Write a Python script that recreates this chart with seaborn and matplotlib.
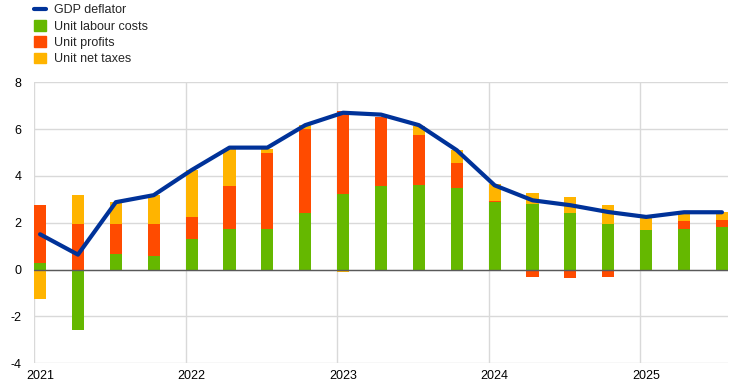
import numpy as np
import pandas as pd
import matplotlib
matplotlib.use("Agg")
import matplotlib.pyplot as plt
import seaborn as sns
from matplotlib.lines import Line2D
from matplotlib.patches import Patch

quarters = ["2021Q1", "2021Q2", "2021Q3", "2021Q4",
            "2022Q1", "2022Q2", "2022Q3", "2022Q4",
            "2023Q1", "2023Q2", "2023Q3", "2023Q4",
            "2024Q1", "2024Q2", "2024Q3", "2024Q4",
            "2025Q1", "2025Q2", "2025Q3"]
labour = [0.28, -2.59, 0.67, 0.58, 1.30, 1.72, 1.72, 2.42, 3.23, 3.58,
          3.60, 3.49, 2.89, 2.79, 2.41, 1.94, 1.68, 1.72, 1.81]
profits = [2.47, 1.94, 1.27, 1.36, 0.95, 1.86, 3.27, 3.59, 3.54, 2.94,
           2.14, 1.05, 0.04, -0.33, -0.37, -0.33, 0.0, 0.34, 0.30]
taxes = [-1.27, 1.24, 0.94, 1.24, 2.01, 1.59, 0.18, 0.16, -0.10, -0.07,
         0.40, 0.56, 0.73, 0.47, 0.68, 0.81, 0.57, 0.38, 0.34]
deflator = [1.51, 0.64, 2.88, 3.18, 4.25, 5.21, 5.21, 6.17, 6.70, 6.62,
            6.17, 5.10, 3.60, 2.96, 2.75, 2.46, 2.25, 2.45, 2.45]
year_labels = ["2021", "2022", "2023", "2024", "2025"]

blue = "#003299"
green = "#65b800"
red = "#ff4b00"
yellow = "#ffb400"

df = pd.DataFrame({"q": quarters, "labour": labour, "profits": profits,
                   "taxes": taxes, "deflator": deflator})
df["pos"] = np.arange(len(df))

sns.set_style("white")
plt.rcParams["font.family"] = ["Liberation Sans", "DejaVu Sans"]
plt.rcParams["font.size"] = 9
plt.rcParams["axes.unicode_minus"] = False

fig = plt.figure(figsize=(7.44, 3.9), dpi=100)
ax = fig.add_axes([0.0457, 0.0685, 0.9323, 0.7205])

# stacked bars: positives up, negatives down
pos_base = np.zeros(len(df))
neg_base = np.zeros(len(df))
for col, c in [("labour", green), ("profits", red), ("taxes", yellow)]:
    v = df[col].values
    base = np.where(v >= 0, pos_base, neg_base)
    ax.bar(df["pos"], v, bottom=base, width=0.32, color=c, linewidth=0, zorder=2)
    pos_base = pos_base + np.clip(v, 0, None)
    neg_base = neg_base + np.clip(v, None, 0)

sns.lineplot(data=df, x="pos", y="deflator", color=blue, linewidth=3,
             ax=ax, zorder=3, legend=False)

ax.set_xlim(-0.16, 18.15)
ax.set_ylim(-4, 8)
ax.set_yticks(np.arange(-4, 9, 2))
ax.set_xticks(np.arange(0, 19, 4))
ax.set_xticklabels(year_labels)
ax.tick_params(axis="both", length=0, labelsize=9, colors="#000000")
ax.tick_params(axis="y", pad=9)
ax.tick_params(axis="x", pad=5)
ax.set_xlabel("")
ax.set_ylabel("")

for y in np.arange(-4, 9, 2):
    ax.axhline(y, color="#d9d9d9", linewidth=1, zorder=0)
for x in np.arange(0, 19, 4) - 0.16:
    ax.axvline(x, color="#d9d9d9", linewidth=1, zorder=0)
ax.axhline(0, color="#595959", linewidth=1, zorder=2.5)
for s in ax.spines.values():
    s.set_visible(False)

handles = [Line2D([0], [0], color=blue, linewidth=3),
           Patch(color=green), Patch(color=red), Patch(color=yellow)]
names = ["GDP deflator", "Unit labour costs", "Unit profits", "Unit net taxes"]
fig.legend(handles, names, loc="upper left", bbox_to_anchor=(0.037, 1.006),
           frameon=False, fontsize=9, handlelength=1.0, handleheight=0.9,
           handletextpad=0.6, labelspacing=0.3, borderaxespad=0.1)

fig.savefig("out.png", dpi=100)
